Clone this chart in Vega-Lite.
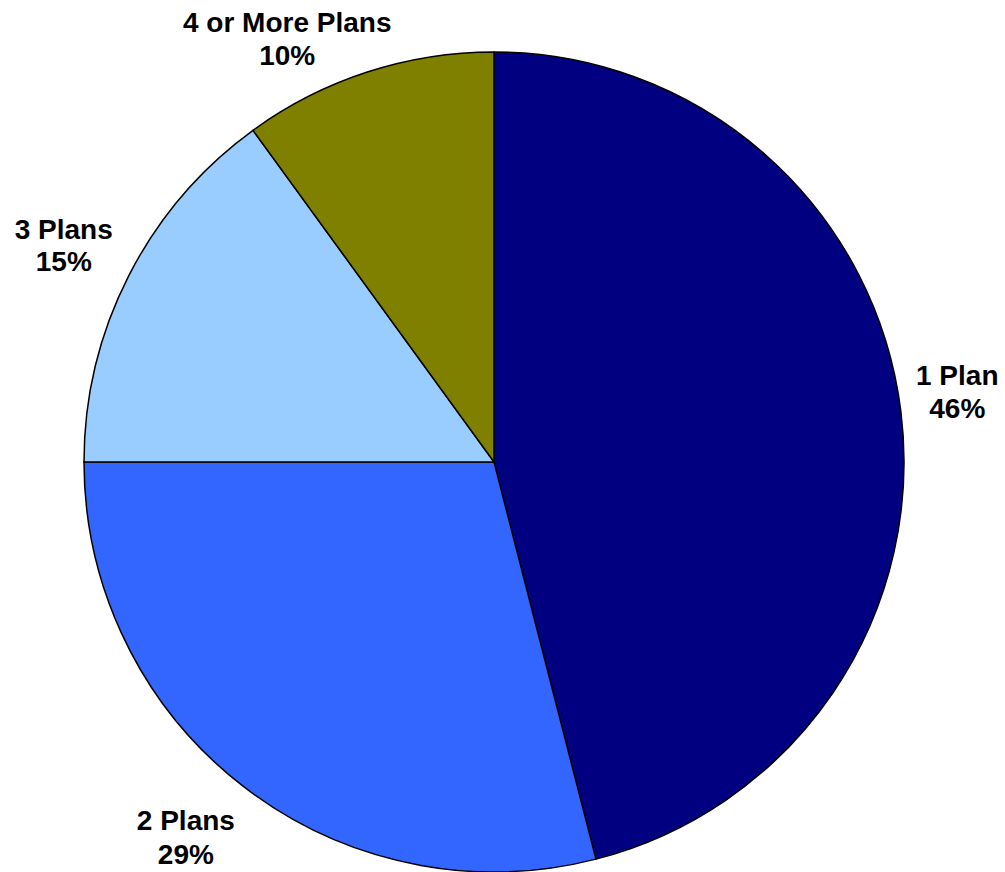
{
  "$schema": "https://vega.github.io/schema/vega-lite/v6.json",
  "width": 988,
  "height": 924,
  "padding": {"left": 0, "top": 0, "right": 17, "bottom": 0},
  "autosize": "none",
  "background": "white",
  "config": {"view": {"stroke": null}},
  "data": {"values": [
    {"plan": "1 Plan", "pct": 0.46},
    {"plan": "2 Plans", "pct": 0.29},
    {"plan": "3 Plans", "pct": 0.15},
    {"plan": "4 or More Plans", "pct": 0.10}
  ]},
  "encoding": {
    "theta": {"field": "pct", "type": "quantitative", "stack": true},
    "order": {"field": "pct", "sort": "descending"}
  },
  "layer": [
    {
      "mark": {"type": "arc", "outerRadius": 410, "stroke": "black", "strokeWidth": 1.5},
      "encoding": {
        "color": {
          "field": "plan",
          "type": "nominal",
          "scale": {
            "domain": ["1 Plan", "2 Plans", "3 Plans", "4 or More Plans"],
            "range": ["#000080", "#3366FF", "#99CCFF", "#808000"]
          },
          "legend": null
        }
      }
    },
    {
      "mark": {
        "type": "text",
        "radius": 475,
        "font": "Liberation Sans",
        "fontWeight": "bold",
        "fontSize": 28,
        "fill": "black",
        "align": "center",
        "baseline": "middle",
        "dx": {"expr": "datum.plan == '4 or More Plans' ? -60 : datum.plan == '2 Plans' ? -17 : datum.plan == '1 Plan' ? -8 : -7"},
        "dy": {"expr": "datum.plan == '4 or More Plans' ? 14 : datum.plan == '1 Plan' ? -25 : datum.plan == '2 Plans' ? -15 : -15"}
      },
      "encoding": {"text": {"field": "plan", "type": "nominal"}}
    },
    {
      "mark": {
        "type": "text",
        "radius": 475,
        "font": "Liberation Sans",
        "fontWeight": "bold",
        "fontSize": 28,
        "fill": "black",
        "align": "center",
        "baseline": "middle",
        "dx": {"expr": "datum.plan == '4 or More Plans' ? -60 : datum.plan == '2 Plans' ? -17 : datum.plan == '1 Plan' ? -8 : -7"},
        "dy": {"expr": "datum.plan == '4 or More Plans' ? 47 : datum.plan == '1 Plan' ? 8 : datum.plan == '2 Plans' ? 19 : 17"}
      },
      "encoding": {"text": {"field": "pct", "type": "quantitative", "format": ".0%"}}
    }
  ]
}
